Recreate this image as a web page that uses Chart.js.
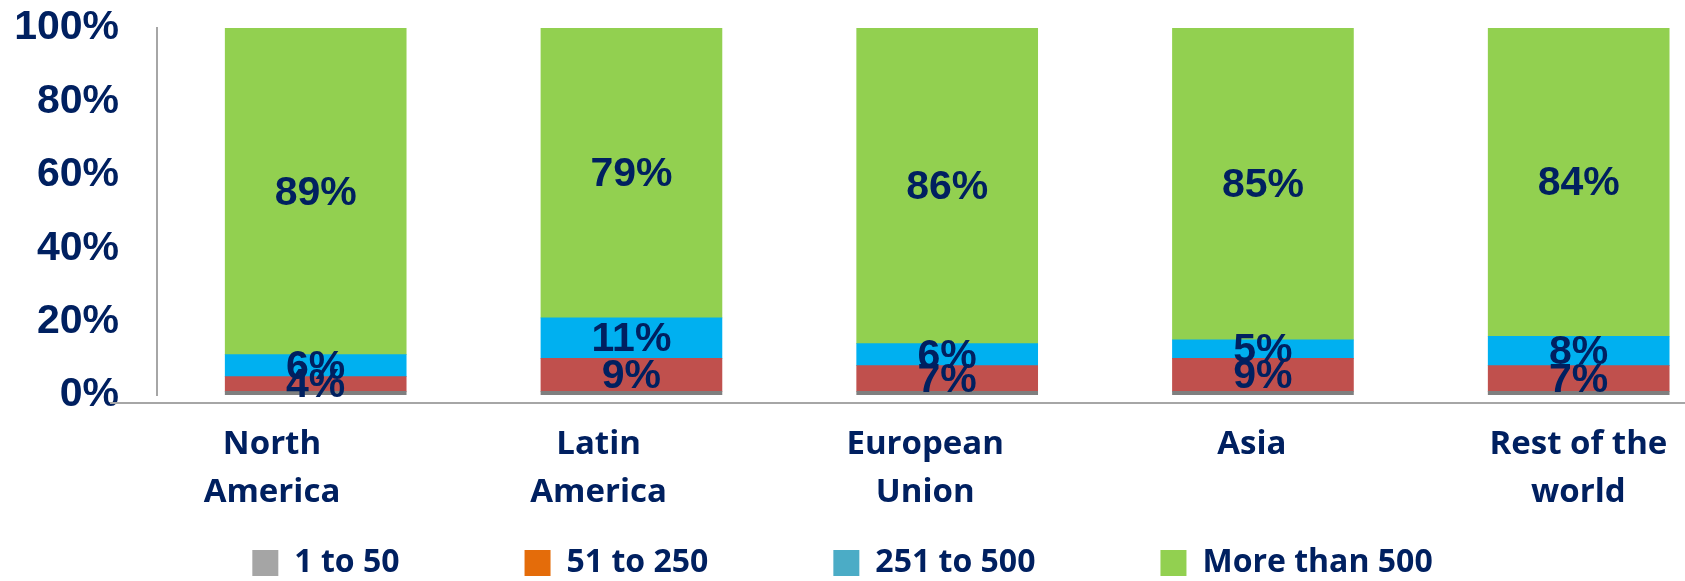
<!DOCTYPE html>
<html>
<head>
<meta charset="utf-8">
<script src="https://cdn.jsdelivr.net/npm/chart.js@4.4.1/dist/chart.umd.min.js"></script>
<style>
  html, body { margin: 0; padding: 0; background: #fff; overflow: hidden; }
  #wrap { width: 1685px; height: 581px; position: relative; }
</style>
</head>
<body>
<div id="wrap"><canvas id="sizeChart"></canvas></div>
<script>
// categories (two-line tick labels) and legend entries
const regions = [["North", "America"], ["Latin", "America"], ["European", "Union"], ["Asia"], ["Rest of the", "world"]];
const sizeBands = ["1 to 50", "51 to 250", "251 to 500", "More than 500"];

// share of companies per size band, %
const band1to50 = [1, 1, 1, 1, 1];
const band51to250 = [4, 9, 7, 9, 7];
const band251to500 = [6, 11, 6, 5, 8];
const bandOver500 = [89, 79, 86, 85, 84];

const yTicks = [0, 20, 40, 60, 80, 100];

const barColors = ["#7f7f7f", "#c0504d", "#00b0f0", "#92d050"];
const legendColors = ["#a5a5a5", "#e46c0a", "#4bacc6", "#92d050"];
const navy = "#002060";

const seriesValues = [band1to50, band51to250, band251to500, bandOver500];

function toPoints(values) {
  return values.map((v, i) => ({ x: i, y: v }));
}

// value labels in the middle of each segment (not on the thin grey one)
const segmentLabels = {
  id: "segmentLabels",
  afterDatasetsDraw(chart) {
    const ctx = chart.ctx;
    ctx.save();
    ctx.font = 'bold 41px "Liberation Sans", Arial, sans-serif';
    ctx.fillStyle = navy;
    ctx.textAlign = "center";
    ctx.textBaseline = "middle";
    chart.data.datasets.forEach((ds, di) => {
      if (di === 0) return;
      chart.getDatasetMeta(di).data.forEach((bar, i) => {
        const p = bar.getProps(["x", "y", "base"], true);
        ctx.fillText(seriesValues[di][i] + "%", p.x, (p.y + p.base) / 2 + 2);
      });
    });
    ctx.restore();
  }
};

// the horizontal rule sits a little under the bars
const baseLine = {
  id: "baseLine",
  afterDraw(chart) {
    const ctx = chart.ctx;
    const y = chart.chartArea.bottom + 8;
    ctx.save();
    ctx.strokeStyle = "#a6a6a6";
    ctx.lineWidth = 2;
    ctx.beginPath();
    ctx.moveTo(110, y);
    ctx.lineTo(chart.width, y);
    ctx.stroke();
    ctx.restore();
  }
};

new Chart(document.getElementById("sizeChart"), {
  type: "bar",
  data: {
    datasets: sizeBands.map((name, i) => ({
      label: name,
      data: toPoints(seriesValues[i]),
      backgroundColor: barColors[i],
      borderWidth: 0,
      barThickness: 181,
      xAxisID: "x",
      yAxisID: "y"
    }))
  },
  options: {
    responsive: true,
    maintainAspectRatio: false,
    animation: false,
    layout: { padding: { top: 28, left: 0, right: 0, bottom: -8 } },
    scales: {
      x: {
        type: "linear",
        display: false,
        offset: false,
        stacked: true,
        min: -0.5026,
        max: 4.3367,
        afterBuildTicks: (scale) => { scale.ticks = regions.map((_, i) => ({ value: i })); }
      },
      xLabels: {
        type: "linear",
        position: "bottom",
        offset: false,
        min: -0.3521,
        max: 4.3264,
        grid: { display: false, drawTicks: false },
        border: { display: false },
        afterBuildTicks: (scale) => { scale.ticks = regions.map((_, i) => ({ value: i })); },
        afterFit: (scale) => { scale.height = 27; },
        ticks: {
          autoSkip: false,
          maxRotation: 0,
          mirror: true,
          padding: -73.75,
          color: navy,
          font: { family: '"Open Sans", sans-serif', size: 33, weight: "bold", lineHeight: 1.44 },
          callback: (v) => regions[v]
        }
      },
      y: {
        stacked: true,
        min: 0,
        max: 100,
        grid: { display: false, drawTicks: false },
        border: { display: true, color: "#a6a6a6", width: 2 },
        afterBuildTicks: (scale) => { scale.ticks = yTicks.map(v => ({ value: v })); },
        afterFit: (scale) => { scale.width = 157; scale.paddingTop = 0; scale.paddingBottom = 0; },
        ticks: {
          padding: 38,
          color: navy,
          font: { family: '"Liberation Sans", Arial, sans-serif', size: 41, weight: "bold" },
          callback: (v) => v + "%"
        }
      }
    },
    plugins: {
      tooltip: { enabled: false },
      legend: {
        position: "bottom",
        labels: {
          boxWidth: 26,
          boxHeight: 26,
          padding: 125,
          color: navy,
          font: { family: '"Open Sans", sans-serif', size: 32, weight: "bold" },
          generateLabels: () => sizeBands.map((name, i) => ({
            text: name,
            fillStyle: legendColors[i],
            strokeStyle: legendColors[i],
            lineWidth: 0,
            fontColor: navy,
            datasetIndex: i
          }))
        }
      }
    }
  },
  plugins: [segmentLabels, baseLine]
});
</script>
</body>
</html>
